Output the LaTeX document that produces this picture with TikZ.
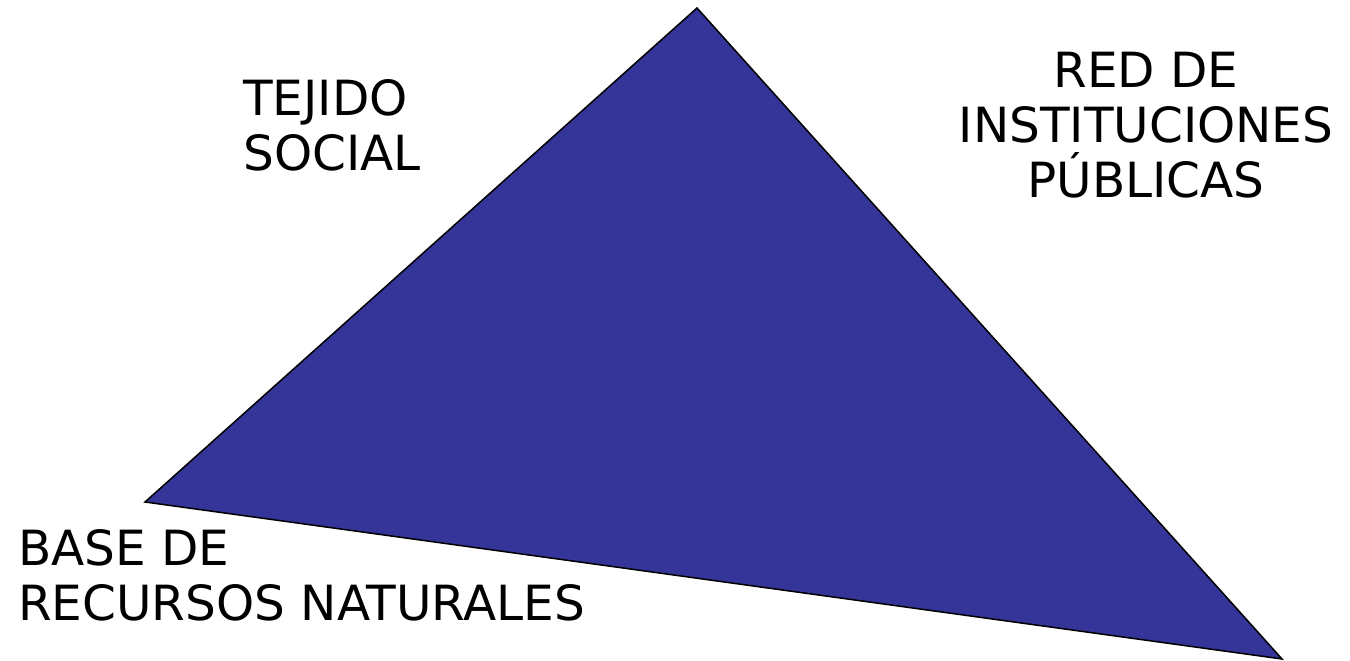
\documentclass[tikz,border=0pt]{standalone}
\usepackage{fontspec}
\setmainfont{DejaVu Sans}
\definecolor{triblue}{HTML}{353599}
\begin{document}
\begin{tikzpicture}[x=1pt,y=-1pt,
  lbl/.style={inner sep=0pt,font=\fontsize{48.5}{55}\selectfont}]
\useasboundingbox (0,0) rectangle (1350,661);
\coordinate (top) at (697,8);
\coordinate (left) at (145,502);
\coordinate (right) at (1282,659);
\fill[triblue] (top) -- (left) -- (right) -- cycle;
\draw[line width=1.5pt,line join=miter] (top) -- (left) -- (right) -- cycle;
\node[lbl,align=left,anchor=base west] (tejido) at (243,170) {TEJIDO\\SOCIAL};
\node[lbl,align=center,anchor=base] (red) at (1146,197) {RED DE\\INSTITUCIONES\\PÚBLICAS};
\node[lbl,align=left,anchor=base west] (base) at (18,620) {BASE DE\\RECURSOS NATURALES};
\end{tikzpicture}
\end{document}
